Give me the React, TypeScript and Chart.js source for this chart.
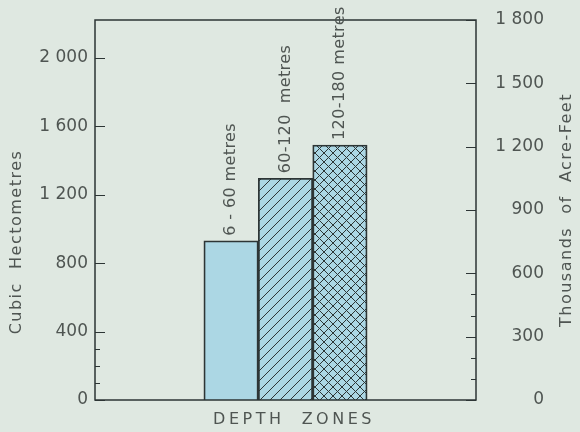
import React, { useEffect, useRef } from 'react';
import { Chart, registerables } from 'chart.js';

Chart.register(...registerables);

// ---- data ----
const zones = ['6 - 60 metres', '60-120  metres', '120-180 metres'];
const volumesHm3 = [930, 1295, 1490];
const leftMajorTicks = [0, 400, 800, 1200, 1600, 2000];
const leftMinorTicks = [100, 200, 300];
const rightMajorTicks = [0, 300, 600, 900, 1200, 1500, 1800];
const rightMinorTicks = [100, 200, 400, 500];
const rightMax = 1800; // thousands of acre-feet
const thousandAcreFeetPerHm3 = 0.8107;
const leftTitle = 'Cubic  Hectometres';
const rightTitle = 'Thousands  of  Acre-Feet';
const xTitle = 'DEPTH  ZONES';
const zonePatterns = ['plain', 'diag', 'cross'];

// ---- style ----
const BG = '#dfe8e1';
const BAR_FILL = '#acd7e4';
const INK = '#2d3535';
const TEXT = '#4f5552';
const FONT = '"DejaVu Sans", sans-serif';

function fmt(v: number): string {
  return String(v).replace(/\B(?=(\d{3})+(?!\d))/g, ' ');
}

function makeFill(kind: string): string | CanvasPattern {
  if (kind === 'plain') return BAR_FILL;
  const size = kind === 'diag' ? 10 : 9;
  const c = document.createElement('canvas');
  c.width = size;
  c.height = size;
  const g = c.getContext('2d')!;
  g.fillStyle = BAR_FILL;
  g.fillRect(0, 0, size, size);
  g.strokeStyle = INK;
  g.lineWidth = 1;
  g.beginPath();
  for (const k of [-size, 0, size]) {
    g.moveTo(k, size);
    g.lineTo(k + size, 0);
    if (kind === 'cross') {
      g.moveTo(k, 0);
      g.lineTo(k + size, size);
    }
  }
  g.stroke();
  return g.createPattern(c, 'repeat') as CanvasPattern;
}

const decor = {
  id: 'decor',
  beforeDraw(chart: any) {
    const { ctx, width, height } = chart;
    ctx.save();
    ctx.fillStyle = BG;
    ctx.fillRect(0, 0, width, height);
    ctx.restore();
  },
  afterDraw(chart: any) {
    const { ctx, chartArea: a } = chart;
    const yL = chart.scales.y;
    const yR = chart.scales.y2;
    ctx.save();
    // frame
    ctx.strokeStyle = INK;
    ctx.lineWidth = 1.5;
    ctx.strokeRect(a.left, a.top, a.right - a.left, a.bottom - a.top);
    // inward tick marks
    ctx.lineWidth = 1.2;
    ctx.beginPath();
    const tick = (x0: number, dir: number, y: number, len: number) => {
      ctx.moveTo(x0, Math.round(y) + 0.5);
      ctx.lineTo(x0 + dir * len, Math.round(y) + 0.5);
    };
    leftMajorTicks.forEach((v) => tick(a.left, 1, yL.getPixelForValue(v), 10));
    leftMinorTicks.forEach((v) => tick(a.left, 1, yL.getPixelForValue(v), 5));
    rightMajorTicks.forEach((v) => tick(a.right, -1, yR.getPixelForValue(v), 10));
    rightMinorTicks.forEach((v) => tick(a.right, -1, yR.getPixelForValue(v), 5));
    ctx.stroke();

    // bar labels
    ctx.fillStyle = TEXT;
    ctx.font = `16px ${FONT}`;
    (ctx as any).letterSpacing = '0.4px';
    const meta = chart.getDatasetMeta(0);
    meta.data.forEach((bar: any, i: number) => {
      ctx.save();
      ctx.translate(bar.x, bar.y - 5);
      ctx.rotate(-Math.PI / 2);
      ctx.textAlign = 'left';
      ctx.textBaseline = 'middle';
      ctx.fillText(zones[i], 0, 0);
      ctx.restore();
    });

    // axis titles
    (ctx as any).letterSpacing = '1.5px';
    ctx.textAlign = 'center';
    ctx.textBaseline = 'middle';
    ctx.save();
    ctx.translate(17, 242);
    ctx.rotate(-Math.PI / 2);
    ctx.fillText(leftTitle, 0, 0);
    ctx.restore();
    ctx.save();
    ctx.translate(567, (a.top + a.bottom) / 2);
    ctx.rotate(-Math.PI / 2);
    ctx.fillText(rightTitle, 0, 0);
    ctx.restore();
    (ctx as any).letterSpacing = '3.5px';
    ctx.fillText(xTitle, 294, 420);
    ctx.restore();
  },
};

export default function App() {
  const ref = useRef<HTMLCanvasElement | null>(null);

  useEffect(() => {
    if (!ref.current) return;
    const fills = zonePatterns.map(makeFill);
    const chart = new Chart(ref.current, {
      type: 'bar',
      data: {
        datasets: [
          {
            label: 'Volume (cubic hectometres)',
            data: volumesHm3.map((v, i) => ({ x: i, y: v })) as any,
            backgroundColor: fills as any,
            borderColor: INK,
            borderWidth: 1.8,
            barPercentage: 1,
            categoryPercentage: 1,
            yAxisID: 'y',
          },
        ],
      },
      options: {
        responsive: false,
        animation: false,
        devicePixelRatio: 1,
        layout: { padding: { top: 20, bottom: 32, left: 0, right: 36 } },
        plugins: {
          legend: { display: false },
          tooltip: { enabled: false },
        },
        scales: {
          x: {
            type: 'linear',
            display: false,
            min: -2.5,
            max: zones.length + 1.5,
            afterBuildTicks: (s: any) => {
              s.ticks = [];
            },
          },
          y: {
            position: 'left',
            min: 0,
            max: rightMax / thousandAcreFeetPerHm3,
            grid: { display: false, drawTicks: false },
            border: { display: false },
            afterBuildTicks: (s: any) => {
              s.ticks = leftMajorTicks.map((v) => ({ value: v }));
            },
            afterFit: (s: any) => {
              s.width = 95;
            },
            ticks: {
              autoSkip: false,
              padding: 7,
              color: TEXT,
              font: { family: FONT, size: 17 },
              callback: (v: any) => fmt(Number(v)),
            },
          },
          y2: {
            position: 'right',
            min: 0,
            max: rightMax,
            grid: { display: false, drawTicks: false },
            border: { display: false },
            afterBuildTicks: (s: any) => {
              s.ticks = rightMajorTicks.map((v) => ({ value: v }));
            },
            afterFit: (s: any) => {
              s.width = 68;
            },
            ticks: {
              autoSkip: false,
              crossAlign: 'far',
              color: TEXT,
              font: { family: FONT, size: 17 },
              callback: (v: any) => fmt(Number(v)),
            },
          },
        },
      } as any,
      plugins: [decor],
    });
    return () => chart.destroy();
  }, []);

  return (
    <div style={{ position: 'absolute', left: 0, top: 0, width: 580, height: 432, background: BG }}>
      <canvas ref={ref} width={580} height={432} />
    </div>
  );
}
